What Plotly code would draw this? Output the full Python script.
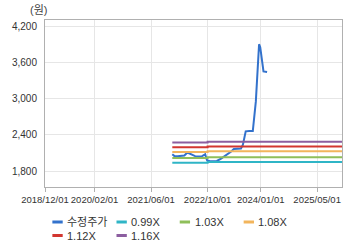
import plotly.graph_objects as go

# ---- data ----
price_dates = [
    "2021-12-01", "2021-12-20", "2022-01-15", "2022-02-15", "2022-03-15",
    "2022-04-10", "2022-05-10", "2022-06-15", "2022-07-15", "2022-08-15",
    "2022-09-10", "2022-09-25", "2022-10-20", "2022-11-20", "2022-12-20",
    "2023-01-25", "2023-02-25", "2023-03-25", "2023-04-25", "2023-05-15",
    "2023-06-15", "2023-07-15", "2023-08-01", "2023-08-25", "2023-09-25",
    "2023-10-25", "2023-11-20", "2023-12-05", "2023-12-18", "2023-12-28",
    "2024-01-10", "2024-01-25", "2024-02-25",
]
price_values = [
    2080, 2050, 2050, 2050, 2060,
    2110, 2085, 2050, 2045, 2050,
    2080, 1985, 1965, 1965, 1970,
    2010, 2050, 2090, 2130, 2170,
    2170, 2175, 2240, 2460, 2465,
    2465, 2950, 3400, 3900, 3850,
    3680, 3450, 3440,
]

band_dates = ["2021-12-01", "2022-10-01", "2025-12-01"]
band_base = [1960, 1972, 1972]
band_multiples = [0.99, 1.03, 1.08, 1.12, 1.16]
band_labels = ["0.99X", "1.03X", "1.08X", "1.12X", "1.16X"]

price_label = "수정주가"
y_ticks = [1800, 2400, 3000, 3600, 4200]
x_ticks = ["2018-12-01", "2020-02-01", "2021-06-01", "2022-10-01", "2024-01-01", "2025-05-01"]
x_ticktext = ["2018/12/01", "2020/02/01", "2021/06/01", "2022/10/01", "2024/01/01", "2025/05/01"]
unit_label = "(원)"

# ---- style ----
price_color = "#3372cc"
band_colors = ["#2fb5c6", "#8fbf5a", "#f2b55c", "#d23630", "#8c5ea0"]
FONT = "Arial, Liberation Sans, Noto Sans CJK KR, sans-serif"

W, H = 360, 248
ML, MR, MT, MB = 40, 18, 20, 61
PW, PH = W - ML - MR, H - MT - MB

fig = go.Figure()

fig.add_trace(go.Scatter(
    x=price_dates, y=price_values, mode="lines", name=price_label,
    line=dict(color=price_color, width=2), showlegend=False,
))
for lab, mult, col in zip(band_labels, band_multiples, band_colors):
    fig.add_trace(go.Scatter(
        x=band_dates, y=[b * mult for b in band_base], mode="lines", name=lab,
        line=dict(color=col, width=2, shape="hv"), showlegend=False,
    ))

# ---- custom legend (short line samples like the original) ----
legend_items = [(price_label, price_color)] + list(zip(band_labels, band_colors))
col_x = [47.5, 112.7, 177, 242]
row_y = [222, 235.5]


def px_x(px):
    return (px - ML) / PW


def px_y(py):
    return (H - MB - py) / PH


shapes = []
annotations = []
for i, (lab, col) in enumerate(legend_items):
    r, c = divmod(i, 4)
    x0 = col_x[c]
    y0 = row_y[r]
    shapes.append(dict(
        type="line", xref="paper", yref="paper",
        x0=px_x(x0), x1=px_x(x0 + 10.5), y0=px_y(y0), y1=px_y(y0),
        line=dict(color=col, width=3),
    ))
    annotations.append(dict(
        text=lab, xref="paper", yref="paper", x=px_x(x0 + 13), y=px_y(y0),
        xanchor="left", yanchor="middle", showarrow=False,
        font=dict(family=FONT, size=11, color="#333333"),
    ))

annotations.append(dict(
    text=unit_label, xref="paper", yref="paper", x=px_x(33), y=px_y(10),
    xanchor="center", yanchor="middle", showarrow=False,
    font=dict(family=FONT, size=11, color="#444444"),
))

fig.update_layout(
    width=W, height=H, autosize=False,
    margin=dict(l=ML, r=MR, t=MT, b=MB, pad=0),
    paper_bgcolor="white", plot_bgcolor="white",
    font=dict(family=FONT, size=10, color="#333333"),
    shapes=shapes, annotations=annotations,
    showlegend=False,
)
fig.update_xaxes(
    type="date", range=["2018-12-01", "2025-12-01"],
    tickvals=x_ticks, ticktext=x_ticktext,
    showgrid=True, gridcolor="#e6e6e6", gridwidth=1,
    showline=True, linecolor="#b0b0b0", linewidth=1, mirror=True,
    ticks="outside", ticklen=4, tickcolor="#b0b0b0",
    tickfont=dict(size=9.5, color="#333333"), zeroline=False,
)
fig.update_yaxes(
    range=[1540, 4300], tickvals=y_ticks, tickformat=",d",
    showgrid=True, gridcolor="#e6e6e6", gridwidth=1,
    showline=True, linecolor="#b0b0b0", linewidth=1, mirror=True,
    ticks="outside", ticklen=5, tickcolor="rgba(0,0,0,0)",
    tickfont=dict(size=10, color="#333333"), zeroline=False,
)

fig.write_html("out.html")
